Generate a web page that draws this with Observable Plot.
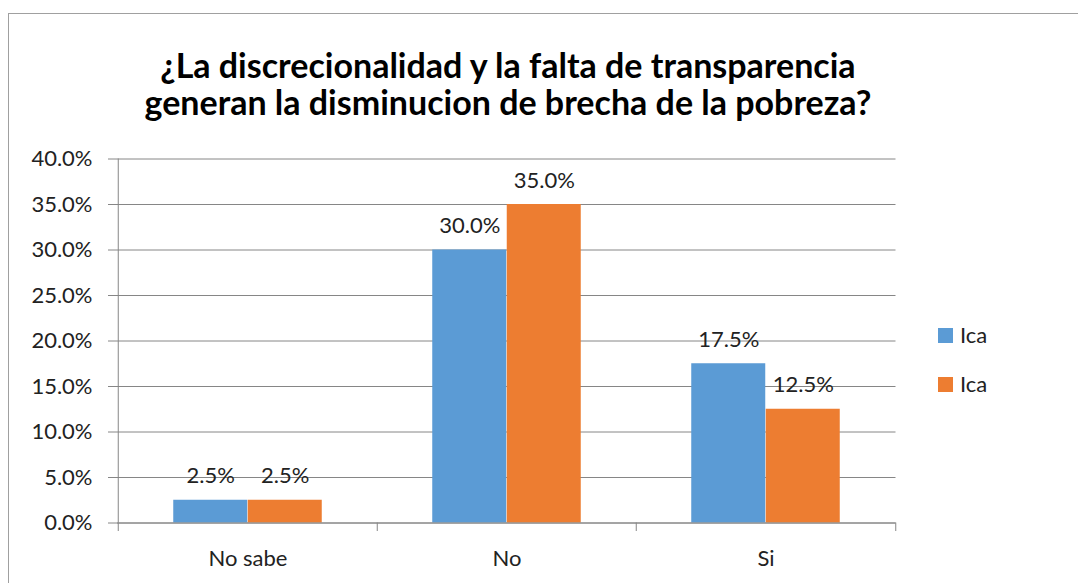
<!DOCTYPE html>
<html><head><meta charset="utf-8">
<script src="https://cdn.jsdelivr.net/npm/d3@7"></script>
<script src="https://cdn.jsdelivr.net/npm/@observablehq/plot@0.6"></script>
<style>
body{margin:0;background:#fff;}
#wrap{position:relative;width:1078px;height:583px;overflow:hidden;font-family:Lato,sans-serif;color:#222;}
#border{position:absolute;left:8px;top:13px;width:1200px;height:700px;border:1.5px solid #a0a0a0;}
#title{position:absolute;left:0;top:46px;width:1016px;text-align:center;font-weight:bold;font-size:34px;line-height:37px;color:#000;white-space:nowrap;}
#chart{position:absolute;left:0;top:130px;}
.lg{position:absolute;left:938px;width:15px;height:15px;}
.lt{position:absolute;left:960px;font-size:22px;line-height:22px;}
</style>
</head><body>
<div id="wrap">
<div id="border"></div>
<div id="title">¿La discrecionalidad y la falta de transparencia<br>generan la disminucion de brecha de la pobreza?</div>
<div id="chart"></div>
<div id="legend"></div>
</div>
<script>
const categories = ["No sabe", "No", "Si"];
const seriesNames = ["Ica", "Ica"];
const seriesColors = ["#5B9BD5", "#ED7D31"];
const serie1 = [2.5, 30.0, 17.5];
const serie2 = [2.5, 35.0, 12.5];
const yTicks = [0, 5, 10, 15, 20, 25, 30, 35, 40];

const rows1 = categories.map((c, i) => ({cat: c, v: serie1[i]}));
const rows2 = categories.map((c, i) => ({cat: c, v: serie2[i]}));

const W = 920, H = 453, mL = 117, mR = 24.5, mT = 28.5, mB = 60.5;
const bw = (W - mL - mR) / categories.length;
const barW = 74.5;
const side = (bw - 2 * barW) / 2;
const off = bw / 2 - side - barW / 2;
const grid = "#868686";
const fmt = d => d.toFixed(1) + "%";

const chart = Plot.plot({
  width: W, height: H,
  marginLeft: mL, marginRight: mR, marginTop: mT, marginBottom: mB,
  style: {fontFamily: "Lato, sans-serif", fontSize: "22px", color: "#222", background: "transparent", overflow: "visible"},
  x: {domain: categories, padding: 0, label: null},
  y: {domain: [0, 40], label: null},
  marks: [
    Plot.gridY(yTicks, {stroke: grid, strokeOpacity: 1}),
    Plot.axisY(yTicks, {tickSize: 9, tickPadding: 16, tickFormat: fmt, stroke: grid, label: null}),
    Plot.axisX({tickSize: 0, tickPadding: 27, label: null}),
    Plot.barY(rows1, {x: "cat", y: "v", fill: seriesColors[0], insetLeft: side, insetRight: side + barW}),
    Plot.barY(rows2, {x: "cat", y: "v", fill: seriesColors[1], insetLeft: side + barW, insetRight: side}),
    Plot.ruleY([0], {stroke: grid}),
    Plot.ruleX([categories[0]], {dx: -bw / 2, y1: 0, y2: 40, stroke: grid}),
    Plot.ruleX(categories, {x: d => d, dx: -bw / 2, y1: 0, y2: 0, insetTop: 8.5, stroke: grid}),
    Plot.ruleX([categories[categories.length - 1]], {x: d => d, dx: bw / 2, y1: 0, y2: 0, insetTop: 8.5, stroke: grid}),
    Plot.text(rows1, {x: "cat", y: "v", text: d => fmt(d.v), dx: -off, lineAnchor: "bottom", dy: -17, fill: "#222"}),
    Plot.text(rows2, {x: "cat", y: "v", text: d => fmt(d.v), dx: off, lineAnchor: "bottom", dy: -17, fill: "#222"})
  ]
});
document.getElementById("chart").appendChild(chart);

const legend = document.getElementById("legend");
seriesNames.forEach((name, i) => {
  const sw = document.createElement("div");
  sw.className = "lg";
  sw.style.top = (328 + i * 49) + "px";
  sw.style.background = seriesColors[i];
  legend.appendChild(sw);
  const t = document.createElement("div");
  t.className = "lt";
  t.style.top = (324 + i * 49) + "px";
  t.textContent = name;
  legend.appendChild(t);
});
</script>
</body></html>
